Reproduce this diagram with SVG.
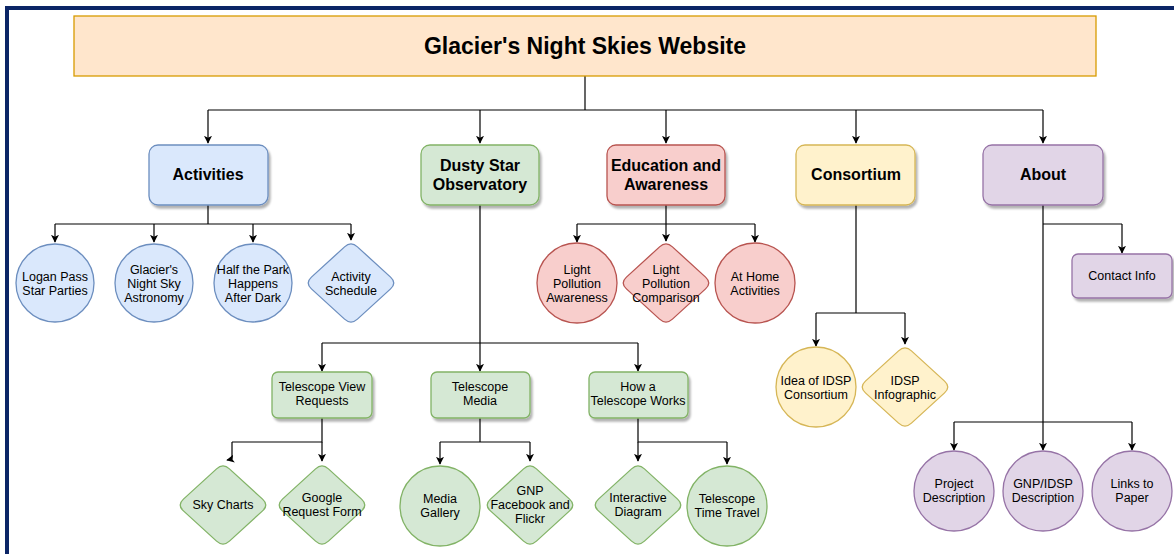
<svg xmlns="http://www.w3.org/2000/svg" width="1174" height="554" viewBox="0 0 1174 554">
<style>
text{font-family:"Liberation Sans",Arial,sans-serif;fill:#000;text-anchor:middle}
.t1{font-size:16px;font-weight:bold}
.t0{font-size:23px;font-weight:bold}
.t2{font-size:12.5px}
.c{fill:none;stroke:#000;stroke-width:1.2}
.blue{fill:#dae8fc;stroke:#6c8ebf;stroke-width:1.3}
.green{fill:#d5e8d4;stroke:#82b366;stroke-width:1.3}
.red{fill:#f8cecc;stroke:#b85450;stroke-width:1.3}
.yellow{fill:#fff2cc;stroke:#d6b656;stroke-width:1.3}
.purple{fill:#e1d5e7;stroke:#9673a6;stroke-width:1.3}
.orange{fill:#ffe6cc;stroke:#d79b00;stroke-width:1.3}
</style>
<defs>
<marker id="ar" viewBox="0 0 10 10" refX="9" refY="5" markerWidth="8" markerHeight="8" markerUnits="userSpaceOnUse" orient="auto">
<path d="M0,0 L10,5 L0,10 L2.5,5 Z" fill="#000"/>
</marker>
<filter id="sh" x="-10%" y="-10%" width="130%" height="140%">
<feDropShadow dx="2" dy="3" stdDeviation="1" flood-color="#000" flood-opacity="0.3"/>
</filter>
<path id="dia" d="M6.44,-36.12 L39.56,-5.88 Q46,0 39.56,5.88 L6.44,36.12 Q0,42 -6.44,36.12 L-39.56,5.88 Q-46,0 -39.56,-5.88 L-6.44,-36.12 Q0,-42 6.44,-36.12 Z"/>
</defs>
<rect width="1174" height="554" fill="#fff"/>
<rect x="7" y="8" width="1300" height="700" fill="none" stroke="#0b2566" stroke-width="4"/>

<g id="connectors">
<path class="c" d="M585,76 V110" stroke-width="2"/>
<path class="c" d="M208,110 H1043"/>
<path class="c" d="M208,110 V143" marker-end="url(#ar)"/>
<path class="c" d="M480,110 V143" marker-end="url(#ar)"/>
<path class="c" d="M666,110 V143" marker-end="url(#ar)"/>
<path class="c" d="M856,110 V143" marker-end="url(#ar)"/>
<path class="c" d="M1043,110 V143" marker-end="url(#ar)"/>
<path class="c" d="M208,205 V224 M55,224 H351"/>
<path class="c" d="M55,224 V242" marker-end="url(#ar)"/>
<path class="c" d="M154,224 V242" marker-end="url(#ar)"/>
<path class="c" d="M253,224 V242" marker-end="url(#ar)"/>
<path class="c" d="M351,224 V240" marker-end="url(#ar)"/>
<path class="c" d="M666,205 V224 M577,224 H755"/>
<path class="c" d="M577,224 V242" marker-end="url(#ar)"/>
<path class="c" d="M666,224 V241" marker-end="url(#ar)"/>
<path class="c" d="M755,224 V242" marker-end="url(#ar)"/>
<path class="c" d="M480,205 V343 M322,343 H638"/>
<path class="c" d="M322,343 V371" marker-end="url(#ar)"/>
<path class="c" d="M480,343 V371" marker-end="url(#ar)"/>
<path class="c" d="M638,343 V371" marker-end="url(#ar)"/>
<path class="c" d="M322,418 V442 H232"/>
<path class="c" d="M232,442 V459 L227,460" marker-end="url(#ar)"/>
<path class="c" d="M322,442 V461" marker-end="url(#ar)"/>
<path class="c" d="M480,418 V442 M440,442 H530"/>
<path class="c" d="M440,442 V464" marker-end="url(#ar)"/>
<path class="c" d="M530,442 V461" marker-end="url(#ar)"/>
<path class="c" d="M638,418 V442 H727"/>
<path class="c" d="M638,442 V461" marker-end="url(#ar)"/>
<path class="c" d="M727,442 V464" marker-end="url(#ar)"/>
<path class="c" d="M856,205 V313 M816,313 H905"/>
<path class="c" d="M816,313 V346" marker-end="url(#ar)"/>
<path class="c" d="M905,313 V344" marker-end="url(#ar)"/>
<path class="c" d="M1043,205 V422 M1043,224 H1122"/>
<path class="c" d="M1122,224 V253" marker-end="url(#ar)"/>
<path class="c" d="M954,422 H1132"/>
<path class="c" d="M954,422 V450" marker-end="url(#ar)"/>
<path class="c" d="M1043,422 V450" marker-end="url(#ar)"/>
<path class="c" d="M1132,422 V450" marker-end="url(#ar)"/>
</g>

<g id="title"><rect class="orange" x="74" y="16" width="1022" height="60"/><text class="t0" x="585" y="54">Glacier's Night Skies Website</text></g>

<g id="activities"><rect class="blue" x="149" y="145" width="119" height="60" rx="9" filter="url(#sh)"/><text class="t1" x="208" y="180">Activities</text></g>
<g id="dusty"><rect class="green" x="421" y="145" width="118" height="60" rx="9" filter="url(#sh)"/><text class="t1" x="480" y="171">Dusty Star</text><text class="t1" x="480" y="190">Observatory</text></g>
<g id="education"><rect class="red" x="607" y="145" width="118" height="60" rx="9" filter="url(#sh)"/><text class="t1" x="666" y="171">Education and</text><text class="t1" x="666" y="190">Awareness</text></g>
<g id="consortium"><rect class="yellow" x="796" y="145" width="119" height="60" rx="9" filter="url(#sh)"/><text class="t1" x="856" y="180">Consortium</text></g>
<g id="about"><rect class="purple" x="983" y="145" width="120" height="60" rx="9" filter="url(#sh)"/><text class="t1" x="1043" y="180">About</text></g>

<g id="logan"><circle class="blue" cx="55" cy="283" r="39"/><text class="t2" x="55" y="281">Logan Pass</text><text class="t2" x="55" y="295">Star Parties</text></g>
<g id="glaciers"><circle class="blue" cx="154" cy="283" r="39"/><text class="t2" x="154" y="274">Glacier's</text><text class="t2" x="154" y="288">Night Sky</text><text class="t2" x="154" y="302">Astronomy</text></g>
<g id="halfpark"><circle class="blue" cx="253" cy="283" r="39"/><text class="t2" x="253" y="274">Half the Park</text><text class="t2" x="253" y="288">Happens</text><text class="t2" x="253" y="302">After Dark</text></g>
<g id="schedule"><use href="#dia" x="351" y="283" class="blue"/><text class="t2" x="351" y="281">Activity</text><text class="t2" x="351" y="295">Schedule</text></g>

<g id="lpa"><circle class="red" cx="577" cy="283" r="40"/><text class="t2" x="577" y="274">Light</text><text class="t2" x="577" y="288">Pollution</text><text class="t2" x="577" y="302">Awareness</text></g>
<g id="lpc"><use href="#dia" x="666" y="283" class="red"/><text class="t2" x="666" y="274">Light</text><text class="t2" x="666" y="288">Pollution</text><text class="t2" x="666" y="302">Comparison</text></g>
<g id="athome"><circle class="red" cx="755" cy="283" r="40"/><text class="t2" x="755" y="281">At Home</text><text class="t2" x="755" y="295">Activities</text></g>

<g id="tvr"><rect class="green" x="272" y="372" width="100" height="46" rx="6" filter="url(#sh)"/><text class="t2" x="322" y="391">Telescope View</text><text class="t2" x="322" y="405">Requests</text></g>
<g id="tmedia"><rect class="green" x="431" y="372" width="99" height="46" rx="6" filter="url(#sh)"/><text class="t2" x="480" y="391">Telescope</text><text class="t2" x="480" y="405">Media</text></g>
<g id="howa"><rect class="green" x="589" y="372" width="99" height="46" rx="6" filter="url(#sh)"/><text class="t2" x="638" y="391">How a</text><text class="t2" x="638" y="405">Telescope Works</text></g>

<g id="skycharts"><use href="#dia" x="223" y="505" class="green"/><text class="t2" x="223" y="509">Sky Charts</text></g>
<g id="google"><use href="#dia" x="322" y="505" class="green"/><text class="t2" x="322" y="502">Google</text><text class="t2" x="322" y="516">Request Form</text></g>
<g id="gallery"><circle class="green" cx="440" cy="506" r="40"/><text class="t2" x="440" y="503">Media</text><text class="t2" x="440" y="517">Gallery</text></g>
<g id="gnpfb"><use href="#dia" x="530" y="505" class="green"/><text class="t2" x="530" y="495">GNP</text><text class="t2" x="530" y="509">Facebook and</text><text class="t2" x="530" y="523">Flickr</text></g>
<g id="interactive"><use href="#dia" x="638" y="505" class="green"/><text class="t2" x="638" y="502">Interactive</text><text class="t2" x="638" y="516">Diagram</text></g>
<g id="timetravel"><circle class="green" cx="727" cy="506" r="40"/><text class="t2" x="727" y="503">Telescope</text><text class="t2" x="727" y="517">Time Travel</text></g>

<g id="idea"><circle class="yellow" cx="816" cy="387" r="40"/><text class="t2" x="816" y="385">Idea of IDSP</text><text class="t2" x="816" y="399">Consortium</text></g>
<g id="infographic"><use href="#dia" x="905" y="387" class="yellow"/><text class="t2" x="905" y="385">IDSP</text><text class="t2" x="905" y="399">Infographic</text></g>

<g id="contact"><rect class="purple" x="1072" y="254" width="100" height="44" rx="6" filter="url(#sh)"/><text class="t2" x="1122" y="280">Contact Info</text></g>
<g id="project"><circle class="purple" cx="954" cy="491" r="40"/><text class="t2" x="954" y="488">Project</text><text class="t2" x="954" y="502">Description</text></g>
<g id="gnpidsp"><circle class="purple" cx="1043" cy="491" r="40"/><text class="t2" x="1043" y="488">GNP/IDSP</text><text class="t2" x="1043" y="502">Description</text></g>
<g id="links"><circle class="purple" cx="1132" cy="491" r="40"/><text class="t2" x="1132" y="488">Links to</text><text class="t2" x="1132" y="502">Paper</text></g>
</svg>
